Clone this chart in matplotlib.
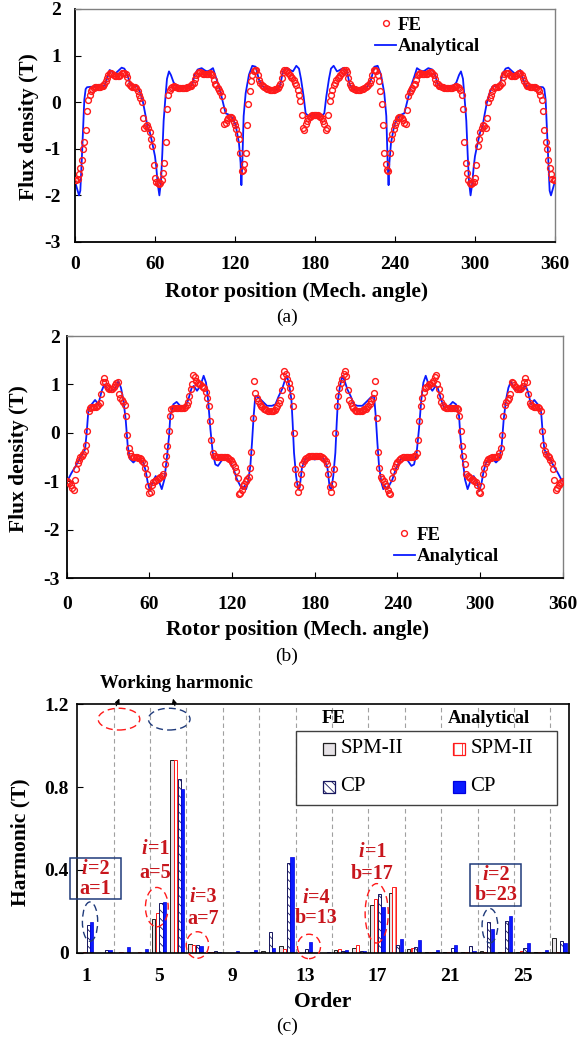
import numpy as np
import matplotlib
matplotlib.use('Agg')
import matplotlib.pyplot as plt
from matplotlib.patches import Ellipse, Rectangle

plt.rcParams['font.family'] = ['Liberation Serif', 'DejaVu Serif']
plt.rcParams['font.weight'] = 'bold'
plt.rcParams['axes.labelweight'] = 'bold'
plt.rcParams['axes.unicode_minus'] = False
plt.rcParams['hatch.linewidth'] = 0.6

# ---------------- (a) flux density, FE every 1 deg ----------------
fe_a = [-1.68, -1.68, -1.65, -1.55, -1.42, -1.25, -1.00, -0.85, -0.60, -0.20,
        0.05, 0.15, 0.24, 0.29, 0.31, 0.32, 0.33, 0.33, 0.33, 0.33,
        0.34, 0.35, 0.38, 0.45, 0.52, 0.58, 0.62, 0.62, 0.60, 0.58,
        0.57, 0.56, 0.56, 0.57, 0.59, 0.62, 0.63, 0.62, 0.60, 0.55,
        0.42, 0.36, 0.34, 0.33, 0.33, 0.32, 0.30, 0.24, 0.15, 0.08,
        0.00, -0.35, -0.55, -0.52, -0.50, -0.55, -0.65, -0.78, -0.93, -1.35,
        -1.62, -1.72, -1.74, -1.75, -1.74, -1.68, -1.52, -1.30, -0.85, -0.15,
        0.15, 0.27, 0.31, 0.33, 0.34, 0.33, 0.32, 0.31, 0.30, 0.30,
        0.30, 0.30, 0.30, 0.31, 0.32, 0.33, 0.34, 0.35, 0.38, 0.42,
        0.50, 0.58, 0.62, 0.64, 0.65, 0.63, 0.61, 0.60, 0.60, 0.60,
        0.61, 0.62, 0.61, 0.58, 0.48, 0.40, 0.36, 0.31, 0.26, 0.22,
        0.14, -0.16, -0.47, -0.45, -0.38, -0.33, -0.31, -0.31, -0.35, -0.42,
        -0.50, -0.58, -0.68, -0.80, -1.10, -1.48, -1.45, -1.32, -1.10, -0.50,
        -0.05, 0.25, 0.45, 0.58, 0.66, 0.70, 0.68, 0.58, 0.48, 0.41,
        0.37, 0.34, 0.32, 0.30, 0.29, 0.28, 0.27, 0.27, 0.27, 0.27,
        0.28, 0.29, 0.31, 0.34, 0.40, 0.52, 0.64, 0.68, 0.68, 0.66,
        0.62, 0.59, 0.55, 0.51, 0.48, 0.42, 0.36, 0.26, 0.16, 0.03,
        -0.28, -0.55, -0.60, -0.47, -0.40, -0.35, -0.31, -0.29, -0.28, -0.27,
        -0.27,
        -0.27, -0.28, -0.29, -0.31, -0.35, -0.40, -0.47, -0.60, -0.55, -0.28,
        0.03, 0.16, 0.26, 0.36, 0.42, 0.48, 0.51, 0.55, 0.59, 0.62,
        0.66, 0.68, 0.68, 0.64, 0.52, 0.40, 0.34, 0.31, 0.29, 0.28,
        0.27, 0.27, 0.27, 0.27, 0.28, 0.29, 0.30, 0.32, 0.34, 0.37,
        0.41, 0.48, 0.58, 0.68, 0.70, 0.66, 0.58, 0.45, 0.25, -0.05,
        -0.50, -1.10, -1.32, -1.45, -1.48, -1.10, -0.80, -0.68, -0.58, -0.50,
        -0.42, -0.35, -0.31, -0.31, -0.33, -0.38, -0.45, -0.47, -0.16, 0.14,
        0.22, 0.26, 0.31, 0.36, 0.40, 0.48, 0.58, 0.61, 0.62, 0.61,
        0.60, 0.60, 0.60, 0.61, 0.63, 0.65, 0.64, 0.62, 0.58, 0.50,
        0.42, 0.38, 0.35, 0.34, 0.33, 0.32, 0.31, 0.30, 0.30, 0.30,
        0.30, 0.30, 0.31, 0.32, 0.33, 0.34, 0.33, 0.31, 0.27, 0.15,
        -0.15, -0.85, -1.30, -1.52, -1.68, -1.74, -1.75, -1.74, -1.72, -1.62,
        -1.35, -0.93, -0.78, -0.65, -0.55, -0.50, -0.52, -0.55, -0.35, 0.00,
        0.08, 0.15, 0.24, 0.30, 0.32, 0.33, 0.33, 0.34, 0.36, 0.42,
        0.55, 0.60, 0.62, 0.63, 0.62, 0.59, 0.57, 0.56, 0.56, 0.57,
        0.58, 0.60, 0.62, 0.62, 0.58, 0.52, 0.45, 0.38, 0.35, 0.34,
        0.33, 0.33, 0.33, 0.33, 0.32, 0.31, 0.29, 0.24, 0.15, 0.05,
        -0.20, -0.60, -0.85, -1.00, -1.25, -1.42, -1.55, -1.65, -1.68, -1.68]

# (a) analytical curve, read at breakpoints
ang_an_a = [0, 1.5, 3, 4, 5, 6, 7, 8, 9, 12, 18, 22, 24, 26, 28, 30, 32, 35, 37, 39,
            41, 43, 47, 49, 51, 53, 54.5, 56, 58, 60, 61, 62, 63.3, 64.5, 65.5, 66.5,
            67.7, 69, 70.5, 72, 74, 76, 80, 86, 88, 90, 92, 95, 97.5, 99, 101, 103.5,
            105.5, 108, 110.5, 113, 115.5, 118, 120.5, 123, 124.2, 124.8, 125.5, 126.5,
            128, 130.5, 133, 135.5, 138, 140.5, 146.5, 152, 154, 156, 159, 162, 163.5,
            166, 168, 169.5, 171.5, 173, 175.5, 178, 180,
            182, 184.5, 187, 188.5, 190.5, 192, 194, 196.5, 198, 201, 204, 206, 208,
            213.5, 219.5, 222, 224.5, 227, 229.5, 232, 233.5, 234.5, 235.2, 235.8, 237,
            239.5, 242, 244.5, 247, 249.5, 252, 254.5, 256.5, 259, 261, 262.5, 265, 268,
            270, 272, 274, 280, 284, 286, 288, 289.5, 291, 292.3, 293.5, 294.5, 295.5,
            296.7, 298, 299, 300, 302, 304, 305.5, 307, 309, 311, 313, 317, 319, 321,
            323, 325, 328, 330, 332, 334, 336, 338, 342, 348, 351, 352, 353, 354, 355,
            356, 357, 358.5, 360]
an_a = [-1.70, -1.85, -2.0, -1.9, -1.3, -0.6, 0.05, 0.28, 0.32, 0.33, 0.33, 0.35, 0.5,
        0.69, 0.65, 0.61, 0.66, 0.74, 0.72, 0.62, 0.42, 0.36, 0.33, 0.2, 0.0, -0.3,
        -0.55, -0.63, -0.88, -1.16, -1.4, -1.74, -2.0, -1.7, -1.1, -0.4, 0.05, 0.5,
        0.66, 0.58, 0.42, 0.36, 0.34, 0.34, 0.38, 0.6, 0.7, 0.73, 0.68, 0.66, 0.68,
        0.73, 0.55, 0.34, 0.05, -0.24, -0.27, -0.34, -0.49, -0.88, -1.3, -1.78, -1.3,
        -0.3, 0.19, 0.59, 0.78, 0.76, 0.48, 0.34, 0.26, 0.28, 0.38, 0.66, 0.73, 0.68,
        0.66, 0.78, 0.72, 0.5, 0.12, -0.24, -0.31, -0.28, -0.27,
        -0.28, -0.31, -0.24, 0.12, 0.5, 0.72, 0.78, 0.66, 0.68, 0.73, 0.66, 0.38, 0.28,
        0.26, 0.34, 0.48, 0.76, 0.78, 0.59, 0.19, -0.3, -1.3, -1.78, -1.3, -0.88,
        -0.49, -0.34, -0.27, -0.24, 0.05, 0.34, 0.55, 0.73, 0.68, 0.66, 0.68, 0.73,
        0.7, 0.6, 0.38, 0.34, 0.34, 0.36, 0.42, 0.58, 0.66, 0.5, 0.05, -0.4, -1.1,
        -1.7, -2.0, -1.74, -1.4, -1.16, -0.88, -0.63, -0.55, -0.3, 0.0, 0.2, 0.33,
        0.36, 0.42, 0.62, 0.72, 0.74, 0.66, 0.61, 0.65, 0.69, 0.5, 0.35, 0.33, 0.33,
        0.32, 0.28, 0.05, -0.6, -1.3, -1.9, -2.0, -1.85, -1.70]

# ---------------- (b) flux density, FE every 1 deg ----------------
fe_b = [-1.00, -1.02, -1.04, -1.08, -1.14, -1.17, -0.97, -0.75, -0.62, -0.55,
        -0.50, -0.47, -0.44, -0.38, -0.25, 0.05, 0.45, 0.52, 0.54, 0.54,
        0.54, 0.54, 0.55, 0.57, 0.62, 0.80, 1.05, 1.14, 1.06, 0.97,
        0.93, 0.91, 0.90, 0.91, 0.94, 0.98, 1.03, 1.05, 0.80, 0.72,
        0.68, 0.63, 0.57, 0.35, -0.05, -0.32, -0.42, -0.47, -0.49, -0.50,
        -0.50, -0.50, -0.51, -0.52, -0.54, -0.57, -0.63, -0.72, -0.85, -1.10,
        -1.24, -1.22, -1.08, -1.02, -0.99, -0.97, -0.95, -0.93, -0.91, -0.88,
        -0.84, -0.65, -0.48, -0.28, 0.05, 0.35, 0.50, 0.52, 0.52, 0.52,
        0.52, 0.52, 0.52, 0.52, 0.52, 0.52, 0.54, 0.58, 0.64, 0.76,
        0.90, 1.02, 1.20, 1.15, 1.08, 1.04, 1.02, 1.00, 0.97, 0.95,
        0.92, 0.84, 0.72, 0.55, 0.25, -0.15, -0.42, -0.47, -0.48, -0.49,
        -0.49, -0.49, -0.49, -0.49, -0.49, -0.49, -0.50, -0.51, -0.53, -0.56,
        -0.60, -0.65, -0.70, -0.78, -0.92, -1.25, -1.24, -1.18, -1.10, -1.05,
        -1.00, -0.95, -0.90, -0.72, -0.40, 0.30, 1.07, 0.82, 0.73, 0.65,
        0.60, 0.56, 0.53, 0.50, 0.49, 0.47, 0.46, 0.45, 0.45, 0.45,
        0.46, 0.48, 0.51, 0.55, 0.62, 0.68, 0.88, 1.18, 1.28, 1.22,
        1.12, 1.04, 0.92, 0.76, 0.55, 0.00, -0.75, -1.05, -1.22, -1.12,
        -0.85, -0.65, -0.58, -0.54, -0.51, -0.49, -0.48, -0.47, -0.47, -0.47,
        -0.47,
        -0.47, -0.47, -0.47, -0.48, -0.49, -0.51, -0.54, -0.58, -0.65, -0.85,
        -1.12, -1.22, -1.05, -0.75, 0.00, 0.55, 0.76, 0.92, 1.04, 1.12,
        1.22, 1.28, 1.18, 0.88, 0.68, 0.62, 0.55, 0.51, 0.48, 0.46,
        0.45, 0.45, 0.45, 0.46, 0.47, 0.49, 0.50, 0.53, 0.56, 0.60,
        0.65, 0.73, 0.82, 1.07, 0.30, -0.40, -0.72, -0.90, -0.95, -1.00,
        -1.05, -1.10, -1.18, -1.24, -1.25, -0.92, -0.78, -0.70, -0.65, -0.60,
        -0.56, -0.53, -0.51, -0.50, -0.49, -0.49, -0.49, -0.49, -0.49, -0.49,
        -0.49, -0.48, -0.47, -0.42, -0.15, 0.25, 0.55, 0.72, 0.84, 0.92,
        0.95, 0.97, 1.00, 1.02, 1.04, 1.08, 1.15, 1.20, 1.02, 0.90,
        0.76, 0.64, 0.58, 0.54, 0.52, 0.52, 0.52, 0.52, 0.52, 0.52,
        0.52, 0.52, 0.52, 0.50, 0.35, 0.05, -0.28, -0.48, -0.65, -0.84,
        -0.88, -0.91, -0.93, -0.95, -0.97, -0.99, -1.02, -1.08, -1.22, -1.24,
        -1.10, -0.85, -0.72, -0.63, -0.57, -0.54, -0.52, -0.51, -0.50, -0.50,
        -0.50, -0.49, -0.47, -0.42, -0.32, -0.05, 0.35, 0.57, 0.63, 0.68,
        0.72, 0.80, 1.05, 1.03, 0.98, 0.94, 0.91, 0.90, 0.91, 0.93,
        0.97, 1.06, 1.14, 1.05, 0.80, 0.62, 0.57, 0.55, 0.54, 0.54,
        0.54, 0.54, 0.52, 0.45, 0.05, -0.25, -0.38, -0.44, -0.47, -0.50,
        -0.55, -0.62, -0.75, -0.97, -1.17, -1.14, -1.08, -1.04, -1.02, -1.00]

ang_an_b = [0, 1.2, 3.6, 6, 8.5, 10.9, 13.3, 14.5, 15.7, 18.1, 20.6, 23, 25.4, 27.3, 29,
            31.5, 35, 37.5, 39.4, 41.1, 42.8, 44.3, 46, 48.4, 50.8, 53.2, 55.6, 57.3,
            58.8, 60.5, 62.2, 64.6, 66.5, 69, 70.9, 72.6, 74.3, 75.2, 77.4, 79.8, 82.3,
            85.9, 88.3, 90.7, 92.2, 94.6, 97, 99.4, 101.1, 102.6, 104.3, 106, 107.9,
            109.8, 111.5, 113.9, 117.6, 121.2, 123.6, 126, 127.7, 129.2, 130.2, 131.6,
            133.3, 134.5, 135.7, 136.9, 139.4, 141.8, 145.4, 149, 151.5, 153.9, 156.3,
            158.2, 159.9, 161.6, 163.1, 164, 165, 166.5, 167.9, 169.1, 170.8, 173.2,
            176.9, 180,
            183.1, 186.8, 189.2, 190.9, 192.1, 193.5, 195, 196, 196.9, 198.4, 200.1,
            201.8, 203.7, 206.1, 208.5, 211, 214.6, 218.2, 220.6, 223.1, 224.3, 225.5,
            226.7, 228.4, 229.8, 230.8, 232.3, 234, 236.4, 238.8, 242.4, 246.1, 248.5,
            250.2, 252.1, 254, 255.7, 257.4, 258.9, 260.6, 263, 265.4, 267.8, 269.3,
            271.7, 274.1, 277.7, 280.2, 282.6, 284.8, 285.7, 287.4, 289.1, 291, 293.5,
            295.4, 297.8, 299.5, 301.2, 302.7, 304.4, 306.8, 309.2, 311.6, 314, 315.7,
            317.2, 318.9, 320.6, 322.5, 325, 328.5, 331, 332.7, 334.6, 337, 339.4,
            341.9, 344.3, 345.5, 346.7, 349.1, 351.5, 354, 356.4, 358.8, 360]
an_b = [-1.0, -0.95, -0.82, -0.71, -0.58, -0.47, -0.34, 0.0, 0.45, 0.59, 0.68, 0.59,
        0.87, 1.0, 0.9, 0.87, 0.9, 1.07, 0.93, 0.69, 0.28, -0.27, -0.54, -0.61, -0.54,
        -0.56, -0.61, -0.78, -1.02, -1.2, -1.02, -0.89, -0.96, -1.16, -0.96, -0.54,
        -0.06, 0.35, 0.59, 0.64, 0.56, 0.52, 0.69, 0.93, 0.97, 0.87, 0.97, 1.18, 1.04,
        0.69, 0.08, -0.41, -0.65, -0.68, -0.61, -0.51, -0.54, -0.75, -0.96, -1.09,
        -1.15, -1.09, -1.16, -1.02, -0.68, -0.2, 0.35, 0.76, 0.73, 0.66, 0.56, 0.56,
        0.59, 0.76, 0.9, 1.07, 1.18, 0.97, 0.69, 0.21, -0.41, -0.89, -1.16, -1.13,
        -0.71, -0.54, -0.51, -0.55,
        -0.51, -0.54, -0.71, -1.13, -1.16, -0.89, -0.41, 0.21, 0.69, 0.97, 1.18, 1.07,
        0.9, 0.76, 0.59, 0.56, 0.56, 0.66, 0.73, 0.76, 0.35, -0.2, -0.68, -1.02, -1.16,
        -1.09, -1.15, -1.09, -0.96, -0.75, -0.54, -0.51, -0.61, -0.68, -0.65, -0.41,
        0.08, 0.69, 1.04, 1.18, 0.97, 0.87, 0.97, 0.93, 0.69, 0.52, 0.56, 0.64, 0.59,
        0.35, -0.06, -0.54, -0.96, -1.16, -0.96, -0.89, -1.02, -1.2, -1.02, -0.78,
        -0.61, -0.56, -0.54, -0.61, -0.54, -0.27, 0.28, 0.69, 0.93, 1.07, 0.9, 0.87,
        0.9, 1.0, 0.87, 0.59, 0.68, 0.59, 0.45, 0.0, -0.34, -0.47, -0.58, -0.71,
        -0.82, -0.95, -1.0]

# ---------------- (c) harmonic spectrum ----------------
orders = list(range(1, 28))
spm_fe = [0, 0, 0, 0, 0.161, 0.93, 0.04, 0.004, 0, 0, 0.008, 0.032, 0, 0, 0.011,
          0.024, 0.23, 0.287, 0.016, 0.002, 0.002, 0.002, 0.008, 0.002, 0.002, 0.002, 0.071]
spm_an = [0.003, 0, 0.005, 0.005, 0.19, 0.93, 0.039, 0.002, 0, 0, 0, 0.018, 0, 0, 0.018,
          0.035, 0.259, 0.319, 0.023, 0.002, 0.002, 0.002, 0.002, 0.002, 0.006, 0.002, 0.003]
cp_fe = [0.134, 0.011, 0, 0, 0.238, 0.84, 0.039, 0.007, 0, 0.005, 0.098, 0.432, 0.016,
         0, 0.006, 0.006, 0.285, 0.037, 0.029, 0.003, 0.023, 0.032, 0.15, 0.155, 0.021,
         0.003, 0.058]
cp_an = [0.15, 0.013, 0.029, 0.019, 0.245, 0.789, 0.031, 0.003, 0.006, 0.011, 0.024,
         0.46, 0.053, 0.005, 0.013, 0.006, 0.219, 0.066, 0.06, 0.014, 0.035, 0.008,
         0.114, 0.177, 0.045, 0.011, 0.047]
order_ticks = [1, 5, 9, 13, 17, 21, 25]
harm_ticks = [0, 0.4, 0.8, 1.2]
harm_ticklabels = ['0', '0.4', '0.8', '1.2']

fig = plt.figure(figsize=(5.79, 10.39), dpi=100)
ax_a = fig.add_axes([0.1295, 0.7671, 0.8290, 0.2243])
ax_b = fig.add_axes([0.1152, 0.4434, 0.8566, 0.2332])
ax_c = fig.add_axes([0.1335, 0.0831, 0.8487, 0.2391])

red = '#ff1a1a'
blue = '#0a1aff'
dark_red = '#c8161d'
navy = '#1f3a7a'


def wave_panel(ax, ang_an, an, fe, leg_anchor, label_x, ylab_x, tick_pad_x, tick_pad_y):
    deg = np.arange(len(fe))
    l_an, = ax.plot(ang_an, an, color=blue, lw=1.3, zorder=2)
    l_fe, = ax.plot(deg, fe, ls='none', marker='o', ms=4.2, mfc='none',
                    mec=red, mew=1.0, zorder=3)
    ax.set_xlim(0, 360)
    ax.set_ylim(-3, 2)
    ax.set_xticks(np.arange(0, 361, 60))
    ax.set_yticks(np.arange(-3, 3, 1))
    ax.tick_params(axis='both', direction='in', length=4, labelsize=14)
    ax.tick_params(axis='x', pad=tick_pad_x)
    ax.tick_params(axis='y', pad=tick_pad_y)
    for s in ['top', 'right']:
        ax.spines[s].set_color('#808080')
        ax.spines[s].set_linewidth(1.0)
    for s in ['left', 'bottom']:
        ax.spines[s].set_linewidth(1.3)
    ax.set_xlabel('Rotor position (Mech. angle)', fontsize=15.5, va='center')
    ax.xaxis.set_label_coords(label_x, -0.213)
    ax.set_ylabel('Flux density (T)', fontsize=15.5, va='center')
    ax.yaxis.set_label_coords(ylab_x, 0.495)
    ax.legend([l_fe, l_an], ['FE', 'Analytical'], loc='upper left',
              bbox_to_anchor=leg_anchor, frameon=False, handlelength=1.1,
              handletextpad=0.1, labelspacing=0.25, borderaxespad=0,
              prop={'weight': 'bold', 'size': 13.5})


wave_panel(ax_a, ang_an_a, an_a, fe_a, (0.61, 1.0), 0.4625, -0.095, 10, 10)
wave_panel(ax_b, ang_an_b, an_b, fe_b, (0.645, 0.245), 0.466, -0.097, 13, 5)

# ---- (c) ----
x = np.array(orders)
w = 0.18
ax_c.vlines(np.arange(2.5, 27, 2), 0, 1.2, colors='#a0a0a0', linestyles=(0, (4, 3)),
            lw=0.8, zorder=0)
ax_c.bar(x - 0.3, spm_fe, w, facecolor='#e6e2e6', edgecolor='#202020', lw=0.7, zorder=2)
ax_c.bar(x - 0.1, spm_an, w, facecolor='white', edgecolor=red, hatch='||', lw=0.7, zorder=2)
ax_c.bar(x + 0.1, cp_fe, w, facecolor='white', edgecolor='#16165e', hatch='\\\\\\\\',
         lw=0.7, zorder=2)
ax_c.bar(x + 0.3, cp_an, w, facecolor=blue, edgecolor='#0000e0', lw=0.5, zorder=2)
ax_c.set_xlim(0.5, 27.5)
ax_c.set_ylim(0, 1.2)
ax_c.set_xticks(order_ticks)
ax_c.set_yticks(harm_ticks)
ax_c.set_yticklabels(harm_ticklabels)
ax_c.tick_params(axis='x', length=0, pad=11, labelsize=14)
ax_c.tick_params(axis='y', direction='in', length=4, pad=6, labelsize=14)
for s in ax_c.spines.values():
    s.set_linewidth(1.2)
ax_c.set_xlabel('Order', fontsize=15.5, va='center')
ax_c.xaxis.set_label_coords(0.4994, -0.197)
ax_c.set_ylabel('Harmonic (T)', fontsize=15.5, va='center')
ax_c.yaxis.set_label_coords(-0.1166, 0.443)

# legend block of (c)
T = ax_c.transAxes
ax_c.add_patch(Rectangle((0.445, 0.5946), 0.5306, 0.2979, transform=T, facecolor='white',
                         edgecolor='#404040', lw=1.0, zorder=4))
sq_w, sq_h = 0.0244, 0.0483
legend_items = [
    (0.500, 0.820, dict(facecolor='#e6e2e6', edgecolor='#202020'), 'SPM-II'),
    (0.500, 0.668, dict(facecolor='white', edgecolor='#16165e', hatch='\\\\\\\\'), 'CP'),
    (0.7646, 0.820, dict(facecolor='white', edgecolor=red, hatch='||'), 'SPM-II'),
    (0.7646, 0.668, dict(facecolor=blue, edgecolor='#0000e0'), 'CP'),
]
for lx, ly, style, txt in legend_items:
    ax_c.add_patch(Rectangle((lx, ly - sq_h / 2), sq_w, sq_h, transform=T, lw=0.9,
                             zorder=5, **style))
    ax_c.text(lx + sq_w + 0.011, ly, txt, transform=T, fontsize=15, fontweight='normal',
              va='center', ha='left', zorder=5)
ax_c.text(14.58, 1.129, 'FE', fontsize=13.5, ha='center', va='center', zorder=5)
ax_c.text(23.14, 1.129, 'Analytical', fontsize=13.5, ha='center', va='center', zorder=5)

# working harmonic marks
ax_c.text(5.94, 1.30, 'Working harmonic', fontsize=13.5, ha='center', va='center',
          clip_on=False)
for cx, col in [(2.79, red), (5.55, navy)]:
    ax_c.add_patch(Ellipse((cx, 1.128), 2.29, 0.105, fill=False, edgecolor=col,
                           ls=(0, (5, 3)), lw=1.0, clip_on=False))
ax_c.annotate('', xy=(2.87, 1.24), xytext=(2.58, 1.18), annotation_clip=False,
              arrowprops=dict(arrowstyle='-|>', lw=0.8, color='k', mutation_scale=7))
ax_c.annotate('', xy=(5.72, 1.24), xytext=(5.9, 1.18), annotation_clip=False,
              arrowprops=dict(arrowstyle='-|>', lw=0.8, color='k', mutation_scale=7))

# order annotations: italic "i" then "=n", second line below
notes = [(1.5, 0.403, 0.308, '=2', 'a=1'),
         (4.8, 0.50, 0.384, '=1', 'a=5'),
         (7.42, 0.268, 0.163, '=3', 'a=7'),
         (13.6, 0.263, 0.166, '=4', 'b=13'),
         (16.72, 0.488, 0.38, '=1', 'b=17'),
         (23.51, 0.375, 0.279, '=2', 'b=23')]
fs_note = 14.5
split = -0.396 * fs_note
for nx, y1, y2, t1, t2 in notes:
    ax_c.annotate('i', (nx, y1), xytext=(split, 0), textcoords='offset points',
                  color=dark_red, fontsize=fs_note, fontstyle='italic',
                  ha='right', va='center')
    ax_c.annotate(t1, (nx, y1), xytext=(split, 0), textcoords='offset points',
                  color=dark_red, fontsize=fs_note, ha='left', va='center')
    ax_c.text(nx, y2, t2, color=dark_red, fontsize=fs_note, ha='center', va='center')

for bx0, by0, bx1, by1 in [(0.08, 0.259, 2.9, 0.455), (22.1, 0.227, 24.89, 0.427)]:
    ax_c.add_patch(Rectangle((bx0, by0), bx1 - bx0, by1 - by0, fill=False,
                             edgecolor=navy, lw=1.1, clip_on=False, zorder=4))

ellipses = [(1.2, 0.15, 0.84, 0.19, navy), (4.87, 0.22, 1.25, 0.19, red),
            (7.1, 0.037, 1.23, 0.128, red), (13.23, 0.03, 1.27, 0.118, red),
            (16.95, 0.19, 1.27, 0.287, red), (23.17, 0.13, 0.86, 0.166, navy)]
for ex, ey, ew, eh, col in ellipses:
    ax_c.add_patch(Ellipse((ex, ey), ew, eh, fill=False, edgecolor=col,
                           ls=(0, (5, 3)), lw=1.0, clip_on=False, zorder=4))

for txt, yy in [('(a)', 317), ('(b)', 656.7), ('(c)', 1026.7)]:
    fig.text(286.7 / 579, 1 - yy / 1039, txt, fontsize=14, fontweight='normal',
             ha='center', va='center')

fig.savefig('out.png', dpi=100)
